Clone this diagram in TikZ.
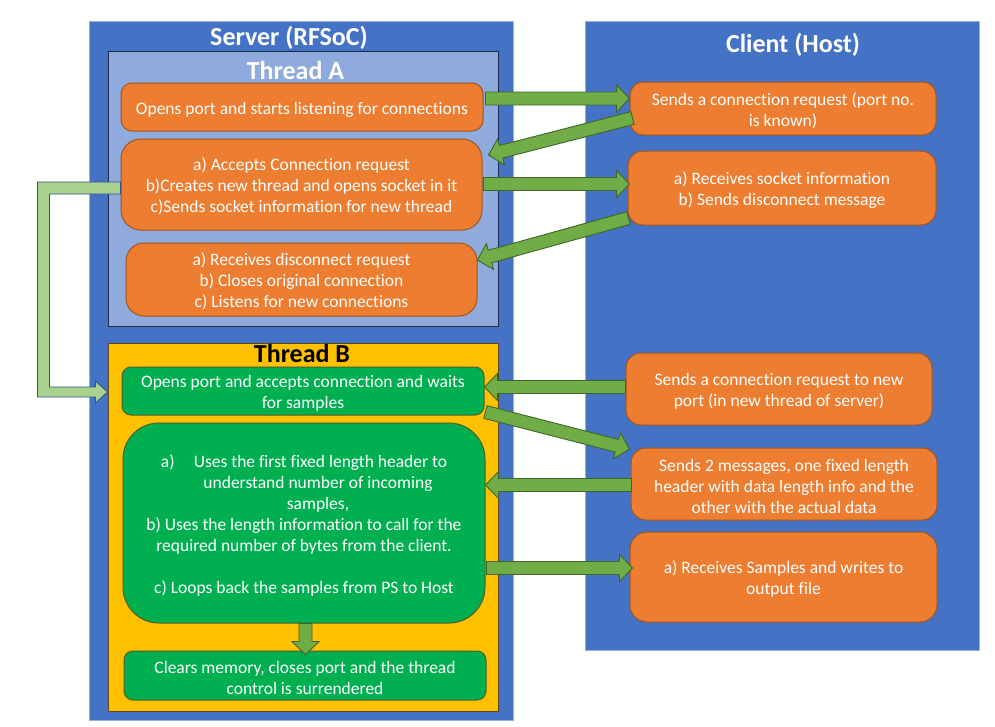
\documentclass[tikz,border=0pt]{standalone}
\usepackage{fontspec}
\setmainfont{Carlito}[Ligatures=NoCommon]
\usetikzlibrary{calc}
\definecolor{outerblue}{HTML}{4472C4}
\definecolor{outeredge}{HTML}{9DAFCF}
\definecolor{threadA}{HTML}{8FAADC}
\definecolor{threadAedge}{HTML}{1F2A44}
\definecolor{threadB}{HTML}{FFC000}
\definecolor{threadBedge}{HTML}{5C4A10}
\definecolor{orangebox}{HTML}{ED7D31}
\definecolor{orangeedge}{HTML}{A5541D}
\definecolor{greenbox}{HTML}{00B050}
\definecolor{greenedge}{HTML}{4F5F2A}
\definecolor{arrowfill}{HTML}{70AD47}
\definecolor{arrowedge}{HTML}{3F6628}
\definecolor{connfill}{HTML}{A9D18E}
\definecolor{connedge}{HTML}{2F528F}
\newcommand\fl{\rule{0pt}{17pt}}
\tikzset{
  outerbox/.style={draw=outeredge, line width=0.8pt, fill=outerblue},
  threadbox/.style={line width=1pt},
  bodytext/.style={font=\fontsize{17.5}{21}\selectfont, text=white, align=center, inner sep=0pt},
  obox/.style={bodytext, draw=orangeedge, line width=1pt, fill=orangebox},
  gbox/.style={bodytext, draw=greenedge, line width=1pt, fill=greenbox},
  titletext/.style={font=\fontsize{26}{30}\selectfont\bfseries, inner sep=0pt},
  blockarrow/.style={draw=arrowedge, line width=0.9pt, fill=arrowfill, line join=miter},
  conn/.style={draw=connedge, line width=0.9pt, fill=connfill}
}
\newcommand\blockarr[2]{%
  \path ($(#2)!13pt!(#1)$) coordinate (bm);
  \draw[blockarrow] ($(#1)!6.5pt!90:(#2)$) -- ($(bm)!6.5pt!90:(#2)$) -- ($(bm)!13.5pt!90:(#2)$)
    -- (#2) -- ($(bm)!13.5pt!-90:(#2)$) -- ($(bm)!6.5pt!-90:(#2)$) -- ($(#1)!6.5pt!-90:(#2)$) -- cycle;
}
\begin{document}
\begin{tikzpicture}[x=1pt,y=-1pt]
\useasboundingbox[fill=white] (0,0) rectangle (995,726);

% outer boxes
\node[outerbox, minimum width=424pt, minimum height=699pt, inner sep=0pt] (SRV) at (301,370.5) {};
\node[outerbox, minimum width=394pt, minimum height=629pt, inner sep=0pt] (CLI) at (782,335.5) {};
\node[titletext, text=white] (SRVT) at (289,38) {Server (RFSoC)};
\node[titletext, text=white] (CLIT) at (793,45) {Client (Host)};

% thread boxes
\node[threadbox, draw=threadAedge, fill=threadA, minimum width=390pt, minimum height=275pt, inner sep=0pt] (TA) at (303,188.5) {};
\node[titletext, text=white] (TAT) at (295.5,70) {Thread A};
\node[threadbox, draw=threadBedge, fill=threadB, minimum width=390pt, minimum height=368pt, inner sep=0pt] (TB) at (303,527) {};
\node[titletext, text=black] (TBT) at (302,353) {Thread B};

% Thread A boxes
\node[obox, rounded corners=11pt, minimum width=362pt, minimum height=48pt] (A1) at (302,107)
  {\fl Opens port and starts listening for connections};
\node[obox, rounded corners=20pt, minimum width=361pt, minimum height=91pt] (A2) at (301.5,184.5)
  {\fl a) Accepts Connection request\\b)Creates new thread and opens socket in it\\c)Sends socket information for new thread};
\node[obox, rounded corners=18pt, minimum width=351pt, minimum height=73pt] (A3) at (301.5,279.5)
  {\fl a) Receives disconnect request\\b) Closes original connection\\c) Listens for new connections};

% Thread B boxes
\node[gbox, rounded corners=9pt, minimum width=362pt, minimum height=48pt] (B1) at (303,391)
  {\fl Opens port and accepts connection and waits\\for samples};
\node[gbox, rounded corners=36pt, minimum width=362pt, minimum height=200pt] (B2) at (304,523)
  {\fl a)\hspace{1.1em}Uses the first fixed length header to\\
   \hspace*{1.6em}understand number of incoming\\
   \hspace*{1.6em}samples,\\
   b) Uses the length information to call for the\\
   required number of bytes from the client.\\[21pt]
   c) Loops back the samples from PS to Host};
\node[gbox, rounded corners=9pt, minimum width=362pt, minimum height=49pt] (B3) at (305,675.5)
  {\fl Clears memory, closes port and the thread\\control is surrendered};

% Client boxes
\node[obox, rounded corners=13pt, minimum width=306pt, minimum height=53pt] (C1) at (783,108.5)
  {\fl Sends a connection request (port no.\\is known)};
\node[obox, rounded corners=15pt, minimum width=308pt, minimum height=74pt] (C2) at (782,188)
  {\fl a) Receives socket information\\b) Sends disconnect message};
\node[obox, rounded corners=15pt, minimum width=306pt, minimum height=72pt] (C3) at (779,389)
  {\fl Sends a connection request to new\\port (in new thread of server)};
\node[obox, rounded corners=15pt, minimum width=306pt, minimum height=72pt] (C4) at (784,484)
  {\fl Sends 2 messages, one fixed length\\header with data length info and the\\other with the actual data};
\node[obox, rounded corners=17pt, minimum width=307pt, minimum height=90pt] (C5) at (783.5,577)
  {\fl a) Receives Samples and writes to\\output file};

% left connector (Thread A -> Thread B)
\coordinate (L1) at ($(A2.west)+(0,3.5)$);
\coordinate (L2) at ($(TB.west |- B1.west)+(0,1)$);
\draw[conn] ($(L1)+(0,-6)$) -- ($(L1)+(-83,-6)$) -- ($(L2)+(-70,5)$) -- ($(L2)+(-12,5)$)
  -- ($(L2)+(-12,11)$) -- (L2) -- ($(L2)+(-12,-11)$) -- ($(L2)+(-12,-5)$)
  -- ($(L2)+(-58,-5)$) -- ($(L1)+(-71,6)$) -- ($(L1)+(0,6)$) -- cycle;

% block arrows
\coordinate (a1s) at ($(A1.east)+(2,-8.5)$);
\coordinate (a1e) at ($(C1.west)+(0,-10)$);
\coordinate (a2s) at ($(C1.west)+(3,9.5)$);
\coordinate (a2e) at ($(A2.east)+(6,-29.5)$);
\coordinate (a3s) at ($(A2.east)+(1,-0.5)$);
\coordinate (a3e) at ($(C2.west)+(2,-4)$);
\coordinate (a4s) at ($(C2.west)+(1,30)$);
\coordinate (a4e) at ($(A3.east)+(0,-19.5)$);
\coordinate (a5s) at ($(C3.west)+(0,-2)$);
\coordinate (a5e) at ($(B1.east)+(0,-4)$);
\coordinate (a6s) at ($(B1.east)+(1,21)$);
\coordinate (a6e) at ($(C4.west)+(-1,-35)$);
\coordinate (a7s) at ($(C4.west)+(1,1)$);
\coordinate (a7e) at ($(B2.east)+(0,-38)$);
\coordinate (a8s) at ($(B2.east)+(1,45)$);
\coordinate (a8e) at ($(C5.west)+(3,-9)$);
\coordinate (a9s) at ($(B2.south)+(1.5,0)$);
\coordinate (a9e) at ($(B3.north)+(0.5,4)$);
\blockarr{a1s}{a1e}
\blockarr{a2s}{a2e}
\blockarr{a3s}{a3e}
\blockarr{a4s}{a4e}
\blockarr{a5s}{a5e}
\blockarr{a6s}{a6e}
\blockarr{a7s}{a7e}
\blockarr{a8s}{a8e}
\blockarr{a9s}{a9e}
\end{tikzpicture}
\end{document}
